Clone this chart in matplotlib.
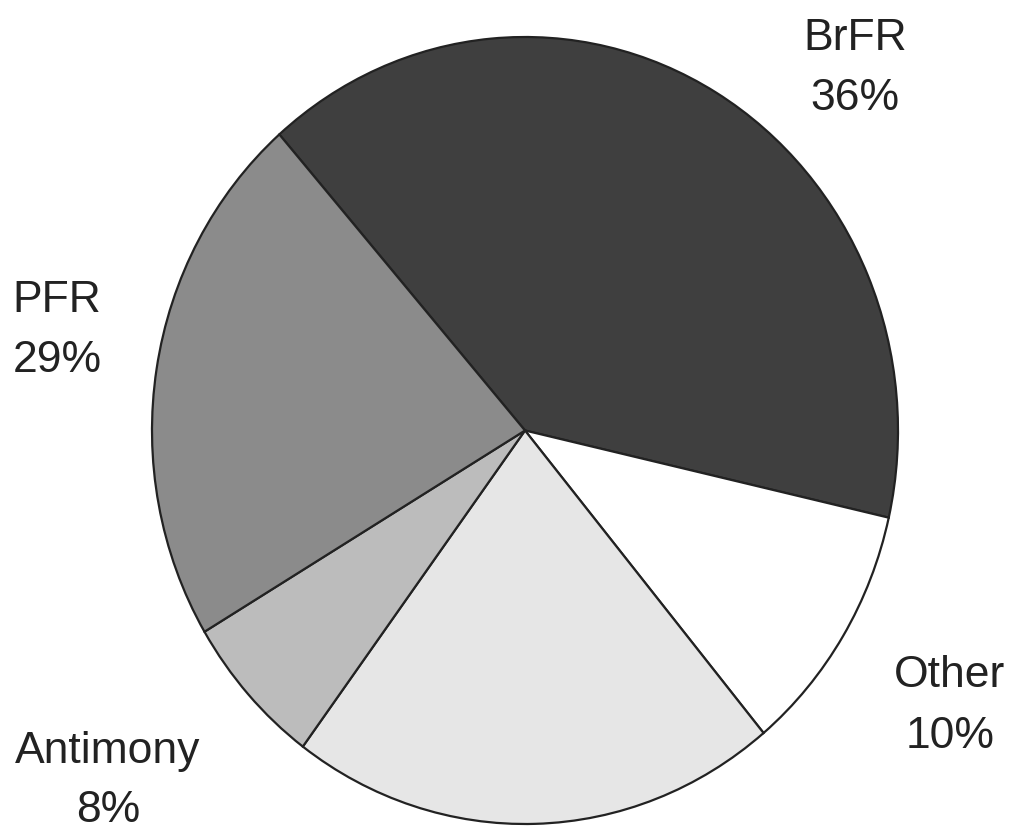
import matplotlib
matplotlib.use("Agg")
import matplotlib.pyplot as plt

# Data (slice shares as drawn, clockwise from the PFR/BrFR boundary)
categories = ["BrFR", "Other", "", "Antimony", "PFR"]
shares = [40.0, 10.4, 21.2, 6.3, 22.1]
pct_labels = ["36%", "10%", "", "8%", "29%"]
colors = ["#3f3f3f", "#ffffff", "#e6e6e6", "#bcbcbc", "#8b8b8b"]

W, H = 1015, 830
fig = plt.figure(figsize=(W / 100, H / 100), dpi=100)
fig.patch.set_facecolor("white")

# pie bounding box in pixels (slightly elliptical as in the reference)
left, right, top, bottom = 152, 898, 37, 824
ax = fig.add_axes([left / W, (H - bottom) / H, (right - left) / W, (bottom - top) / H])
ax.pie(shares, colors=colors, startangle=131.2, counterclock=False,
       wedgeprops=dict(edgecolor="#222222", linewidth=1.6))
ax.set_aspect("auto")
ax.set_xlim(-1, 1)
ax.set_ylim(-1, 1)
ax.axis("off")

# label positions (pixel centre x, name baseline y, percent baseline y)
label_pos = {
    "BrFR": (855, 50, 110),
    "Other": (950, 687, 748),
    "Antimony": (108, 763, 822),
    "PFR": (57, 312, 372),
}
for name, pct in zip(categories, pct_labels):
    if not name:
        continue
    x, y1, y2 = label_pos[name]
    fig.text(x / W, 1 - y1 / H, name, ha="center", va="baseline",
             fontsize=32, family="Liberation Sans", color="#222222")
    fig.text(x / W, 1 - y2 / H, pct, ha="center", va="baseline",
             fontsize=32, family="Liberation Sans", color="#222222")

fig.savefig("out.png", dpi=100)
